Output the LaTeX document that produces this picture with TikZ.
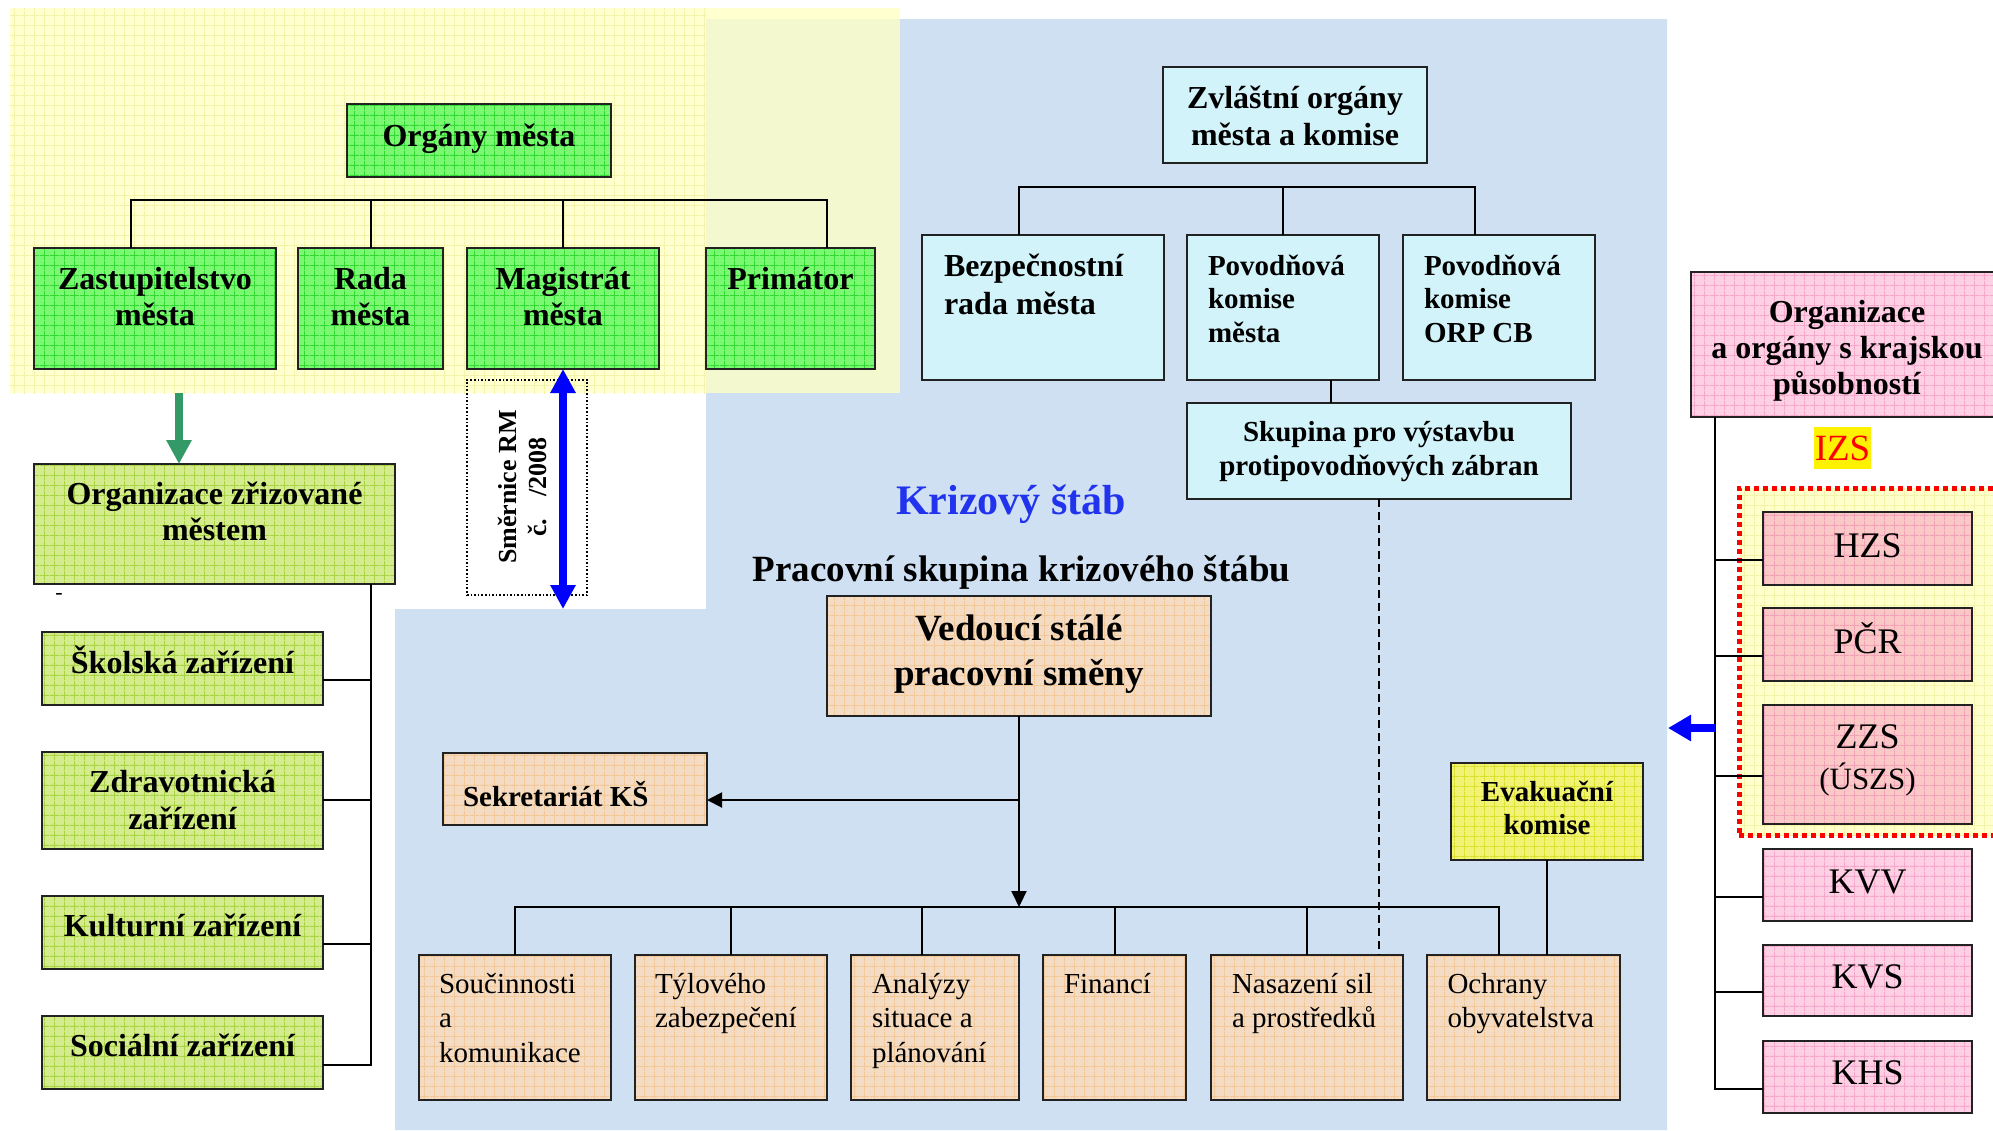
\documentclass[tikz,border=0pt]{standalone}
\usepackage{fontspec}
\setmainfont{Liberation Serif}
\usetikzlibrary{arrows.meta,patterns}
\pgfdeclarepatternformonly{mygrid}{\pgfqpoint{0pt}{0pt}}{\pgfqpoint{10pt}{10pt}}{\pgfqpoint{10pt}{10pt}}{%
  \pgfsetlinewidth{0.9pt}%
  \pgfpathmoveto{\pgfqpoint{0pt}{5pt}}\pgfpathlineto{\pgfqpoint{10pt}{5pt}}%
  \pgfpathmoveto{\pgfqpoint{5pt}{0pt}}\pgfpathlineto{\pgfqpoint{5pt}{10pt}}%
  \pgfusepath{stroke}}
\definecolor{bgblue}{HTML}{CFE0F2}
\definecolor{bgyel}{HTML}{FFFFC4}
\definecolor{yelgrid}{HTML}{F2F2A8}
\definecolor{greenF}{HTML}{7AF872}
\definecolor{greenG}{HTML}{33D833}
\definecolor{oliveF}{HTML}{D4EC8E}
\definecolor{oliveG}{HTML}{AAD245}
\definecolor{cyanF}{HTML}{D2F3F9}
\definecolor{tanF}{HTML}{F3DCC3}
\definecolor{tanG}{HTML}{F2C898}
\definecolor{evaF}{HTML}{F2F275}
\definecolor{evaG}{HTML}{D8E030}
\definecolor{pinkF}{HTML}{FDD0E4}
\definecolor{pinkG}{HTML}{F5A8CC}
\definecolor{salF}{HTML}{FAC8C6}
\definecolor{salG}{HTML}{F2A2B6}
\definecolor{izsF}{HTML}{FFFFCC}
\definecolor{arrgreen}{HTML}{339966}
\definecolor{ksblue}{HTML}{2233EE}
\definecolor{border}{HTML}{222222}
\newcommand\myfs[2]{\fontsize{#1pt}{#2pt}\selectfont}
\newcommand\bx[6]{\node[#2, minimum width={#5pt-#3pt}, minimum height={#6pt-#4pt}] (#1) at (#3,#4) {};}
\begin{document}
\begin{tikzpicture}[x=1pt,y=-1pt,
  box/.style={draw=border, line width=2pt, inner sep=0pt, outer sep=0pt, anchor=north west},
  gridbox/.style 2 args={box, preaction={fill=#1}, pattern=mygrid, pattern color=#2},
  green/.style={gridbox={greenF}{greenG}},
  olive/.style={gridbox={oliveF}{oliveG}},
  tan/.style={gridbox={tanF}{tanG}},
  evab/.style={gridbox={evaF}{evaG}},
  pink/.style={gridbox={pinkF}{pinkG}},
  salmon/.style={gridbox={salF}{salG}},
  cyanb/.style={box, fill=cyanF},
  dotbox/.style={draw=black, line width=1.6pt, dotted, inner sep=0pt, outer sep=0pt, anchor=north west},
  izsbox/.style={draw=red, line width=5pt, dash pattern=on 5pt off 4pt, inner sep=0pt, outer sep=0pt, anchor=north west, preaction={fill=izsF}, pattern=mygrid, pattern color=yelgrid},
  lbl/.style={inner sep=0pt, outer sep=0pt, align=center, anchor=base},
  lbll/.style={inner sep=0pt, outer sep=0pt, align=left, anchor=base west},
  bold32/.style={font=\bfseries\myfs{32}{36}},
  bold29/.style={font=\bfseries\myfs{29}{33.5}},
  reg29/.style={font=\myfs{29}{34.3}},
  reg36/.style={font=\myfs{36}{40}},
  conn/.style={draw=black, line width=2pt},
  dashline/.style={draw=black, line width=1.6pt, dash pattern=on 8pt off 5pt},
  fatarrow/.style={line width=8pt, -{Triangle[length=24pt,width=24pt]}},
]
\useasboundingbox (0,0) rectangle (1993,1130);
\clip (0,0) rectangle (1993,1130);
% backgrounds
\fill[white] (0,0) rectangle (1993,1130);
\fill[bgblue] (706,19) -- (1667,19) -- (1667,1130) -- (395,1130) -- (395,609) -- (706,609) -- cycle;
\fill[bgyel, fill opacity=0.78] (10,8) rectangle (900,393);
\path[pattern=mygrid, pattern color=yelgrid] (10,8) rectangle (706,393);

% top-left: organs of the city
\bx{org}{green}{347}{104}{611}{177}
\node[lbl, bold32] (orgT) at (479,146) {Orgány města};
\bx{zast}{green}{34}{248}{276}{369}
\bx{rada}{green}{298}{248}{443}{369}
\bx{mag}{green}{467}{248}{659}{369}
\bx{prim}{green}{706}{248}{875}{369}
\node[lbl, bold32] (zastT) at (155,325) {Zastupitelstvo\\města};
\node[lbl, bold32] (radaT) at (370.5,325) {Rada\\města};
\node[lbl, bold32] (magT) at (563,325) {Magistrát\\města};
\node[lbl, bold32] (primT) at (790.5,289) {Primátor};
\coordinate (tb1) at (131,200);
\coordinate (tb2) at (371,200);
\coordinate (tb4) at (827,200);
\draw[conn] (zast.north -| tb1) -- (tb1) -- (tb4) -- (prim.north -| tb4);
\draw[conn] (rada.north -| tb2) -- (tb2);
\draw[conn] (mag.north) -- (mag.north |- tb1);

% organisations set up by the city
\bx{ozr}{olive}{34}{464}{395}{584}
\node[lbl, bold32] (ozrT) at (214.5,540) {Organizace zřizované\\městem};
\coordinate (ga) at (179,393);
\draw[fatarrow, arrgreen] (ga) -- (ozr.north -| ga);
\node[font=\myfs{22}{22}, inner sep=0pt] (dash) at (59,596) {-};
\bx{skol}{olive}{42}{632}{323}{705}
\bx{zdr}{olive}{42}{752}{323}{849}
\bx{kult}{olive}{42}{896}{323}{969}
\bx{soc}{olive}{42}{1016}{323}{1089}
\node[lbl, bold32] (skolT) at (182.5,673) {Školská zařízení};
\node[lbl, font=\bfseries\myfs{32}{37}] (zdrT) at (182.5,829) {Zdravotnická\\zařízení};
\node[lbl, bold32] (kultT) at (182.5,936) {Kulturní zařízení};
\node[lbl, bold32] (socT) at (182.5,1056) {Sociální zařízení};
\coordinate (l1) at (371,680);
\coordinate (l2) at (371,800);
\coordinate (l3) at (371,944);
\coordinate (l4) at (371,1064.5);
\draw[conn] (ozr.south -| l4) -- (l4) -- (soc.east |- l4);
\draw[conn] (l1) -- (skol.east |- l1);
\draw[conn] (l2) -- (zdr.east |- l2);
\draw[conn] (l3) -- (kult.east |- l3);

% directive
\bx{smer}{dotbox}{467}{380}{587}{595}
\node[rotate=90, align=center, inner sep=0pt, font=\bfseries\myfs{26}{30}] (smerT) at (523,487) {Směrnice RM\\č.\hspace{22pt}/2008};
\coordinate (sa) at (563,609);
\draw[line width=8pt, blue, {Triangle[length=24pt,width=24pt]}-{Triangle[length=24pt,width=24pt]}] (mag.south) -- (sa);

% special organs
\bx{zvl}{cyanb}{1163}{67}{1427}{163}
\node[lbl, font=\bfseries\myfs{32}{37}] (zvlT) at (1295,145) {Zvláštní orgány\\města a komise};
\bx{bez}{cyanb}{922}{235}{1164}{380}
\bx{pkm}{cyanb}{1187}{235}{1379}{380}
\bx{pko}{cyanb}{1403}{235}{1595}{380}
\node[lbll, font=\bfseries\myfs{32}{38}] (bezT) at (944,314) {Bezpečnostní\\rada města};
\node[lbll, bold29] (pkmT) at (1208,342) {Povodňová\\komise\\města};
\node[lbll, bold29] (pkoT) at (1424,342) {Povodňová\\komise\\ORP CB};
\coordinate (zb1) at (1019,187);
\coordinate (zb3) at (1475,187);
\draw[conn] (bez.north -| zb1) -- (zb1) -- (zb3) -- (pko.north -| zb3);
\draw[conn] (pkm.north) -- (pkm.north |- zb1);
\bx{skp}{cyanb}{1187}{403}{1571}{499}
\node[lbl, bold29] (skpT) at (1379,475) {Skupina pro výstavbu\\protipovodňových zábran};
\coordinate (ps) at (1331,390);
\draw[conn] (pkm.south -| ps) -- (skp.north -| ps);

% crisis staff
\node[lbl, font=\bfseries\myfs{42}{46}, text=ksblue] (ksT) at (1011,514) {Krizový štáb};
\node[lbl, font=\bfseries\myfs{37}{42}] (pskT) at (1021.5,581) {Pracovní skupina krizového štábu};
\bx{ved}{tan}{827}{596}{1211}{716}
\node[lbl, font=\bfseries\myfs{37}{45}] (vedT) at (1019,685) {Vedoucí stálé\\pracovní směny};
\bx{sek}{tan}{443}{753}{707}{825}
\node[lbll, bold29] (sekT) at (463,806) {Sekretariát KŠ};

\bx{sou}{tan}{419}{955}{611}{1100}
\bx{tyl}{tan}{635}{955}{827}{1100}
\bx{ana}{tan}{851}{955}{1019}{1100}
\bx{fin}{tan}{1043}{955}{1186}{1100}
\bx{nas}{tan}{1211}{955}{1403}{1100}
\bx{och}{tan}{1427}{955}{1620}{1100}
\node[lbll, reg29] (souT) at (439,1062) {Součinnosti\\a\\komunikace};
\node[lbll, reg29] (tylT) at (655,1027.5) {Týlového\\zabezpečení};
\node[lbll, reg29] (anaT) at (872,1062) {Analýzy\\situace a\\plánování};
\node[lbll, reg29] (finT) at (1064,993) {Financí};
\node[lbll, reg29] (nasT) at (1232,1027.5) {Nasazení sil\\a prostředků};
\node[lbll, reg29] (ochT) at (1447.5,1027.5) {Ochrany\\obyvatelstva};

\coordinate (bb1) at (515,907);
\coordinate (bb6) at (1499,907);
\coordinate (vs) at (1019,800);
\draw[conn, -{Triangle[length=16pt,width=15pt]}] (ved.south) -- (ved.south |- bb1);
\draw[conn, -{Triangle[length=15pt,width=15pt]}] (vs) -- (sek.east |- vs);
\draw[conn] (sou.north -| bb1) -- (bb1) -- (bb6) -- (och.north -| bb6);
\draw[conn] (tyl.north) -- (tyl.north |- bb1);
\draw[conn] (ana.north -| 922,0) -- (922,907);
\draw[conn] (fin.north -| 1115,0) -- (1115,907);
\draw[conn] (nas.north) -- (nas.north |- bb1);

\bx{eva}{evab}{1451}{763}{1643}{860}
\node[lbl, font=\bfseries\myfs{29}{33}] (evaT) at (1547,834) {Evakuační\\komise};
\draw[conn] (eva.south) -- (eva.south |- och.north);
\draw[dashline] (skp.south) -- (skp.south |- nas.north);

% regional organisations
\bx{okr}{pink}{1691}{272}{2003}{417}
\node[lbl, bold32] (okrT) at (1847,394) {Organizace\\a orgány s krajskou\\působností};
\node[fill=yellow, text=red, font=\myfs{37}{40}, inner xsep=1pt, inner ysep=0pt, minimum height=42pt] (izs) at (1842.5,448) {IZS};
\bx{izsz}{izsbox}{1739}{488}{2012}{835}
\bx{hzs}{salmon}{1763}{512}{1972}{585}
\bx{pcr}{salmon}{1763}{608}{1972}{681}
\bx{zzs}{salmon}{1763}{705}{1972}{824}
\bx{kvv}{pink}{1763}{849}{1972}{921}
\bx{kvs}{pink}{1763}{945}{1972}{1016}
\bx{khs}{pink}{1763}{1041}{1972}{1113}
\node[lbl, reg36] (hzsT) at (1867.5,557.5) {HZS};
\node[lbl, reg36] (pcrT) at (1867.5,653) {PČR};
\node[lbl, reg36] (zzsT) at (1867.5,748) {ZZS};
\node[lbl, font=\myfs{31}{34}] (uszsT) at (1867.5,789) {(ÚSZS)};
\node[lbl, reg36] (kvvT) at (1867.5,893) {KVV};
\node[lbl, reg36] (kvsT) at (1867.5,988.5) {KVS};
\node[lbl, reg36] (khsT) at (1867.5,1084.5) {KHS};
\coordinate (r1) at (1715,560);
\coordinate (r2) at (1715,656);
\coordinate (r3) at (1715,776);
\coordinate (r4) at (1715,896.5);
\coordinate (r5) at (1715,992);
\coordinate (r6) at (1715,1089);
\draw[conn] (okr.south -| r6) -- (r6) -- (khs.west |- r6);
\draw[conn] (r1) -- (hzs.west |- r1);
\draw[conn] (r2) -- (pcr.west |- r2);
\draw[conn] (r3) -- (zzs.west |- r3);
\draw[conn] (r4) -- (kvv.west |- r4);
\draw[conn] (r5) -- (kvs.west |- r5);
\coordinate (ba1) at (1715,728);
\coordinate (ba2) at (1668,728);
\draw[fatarrow, blue, -{Triangle[length=23pt,width=25pt]}] (ba1) -- (ba2);
\end{tikzpicture}
\end{document}
